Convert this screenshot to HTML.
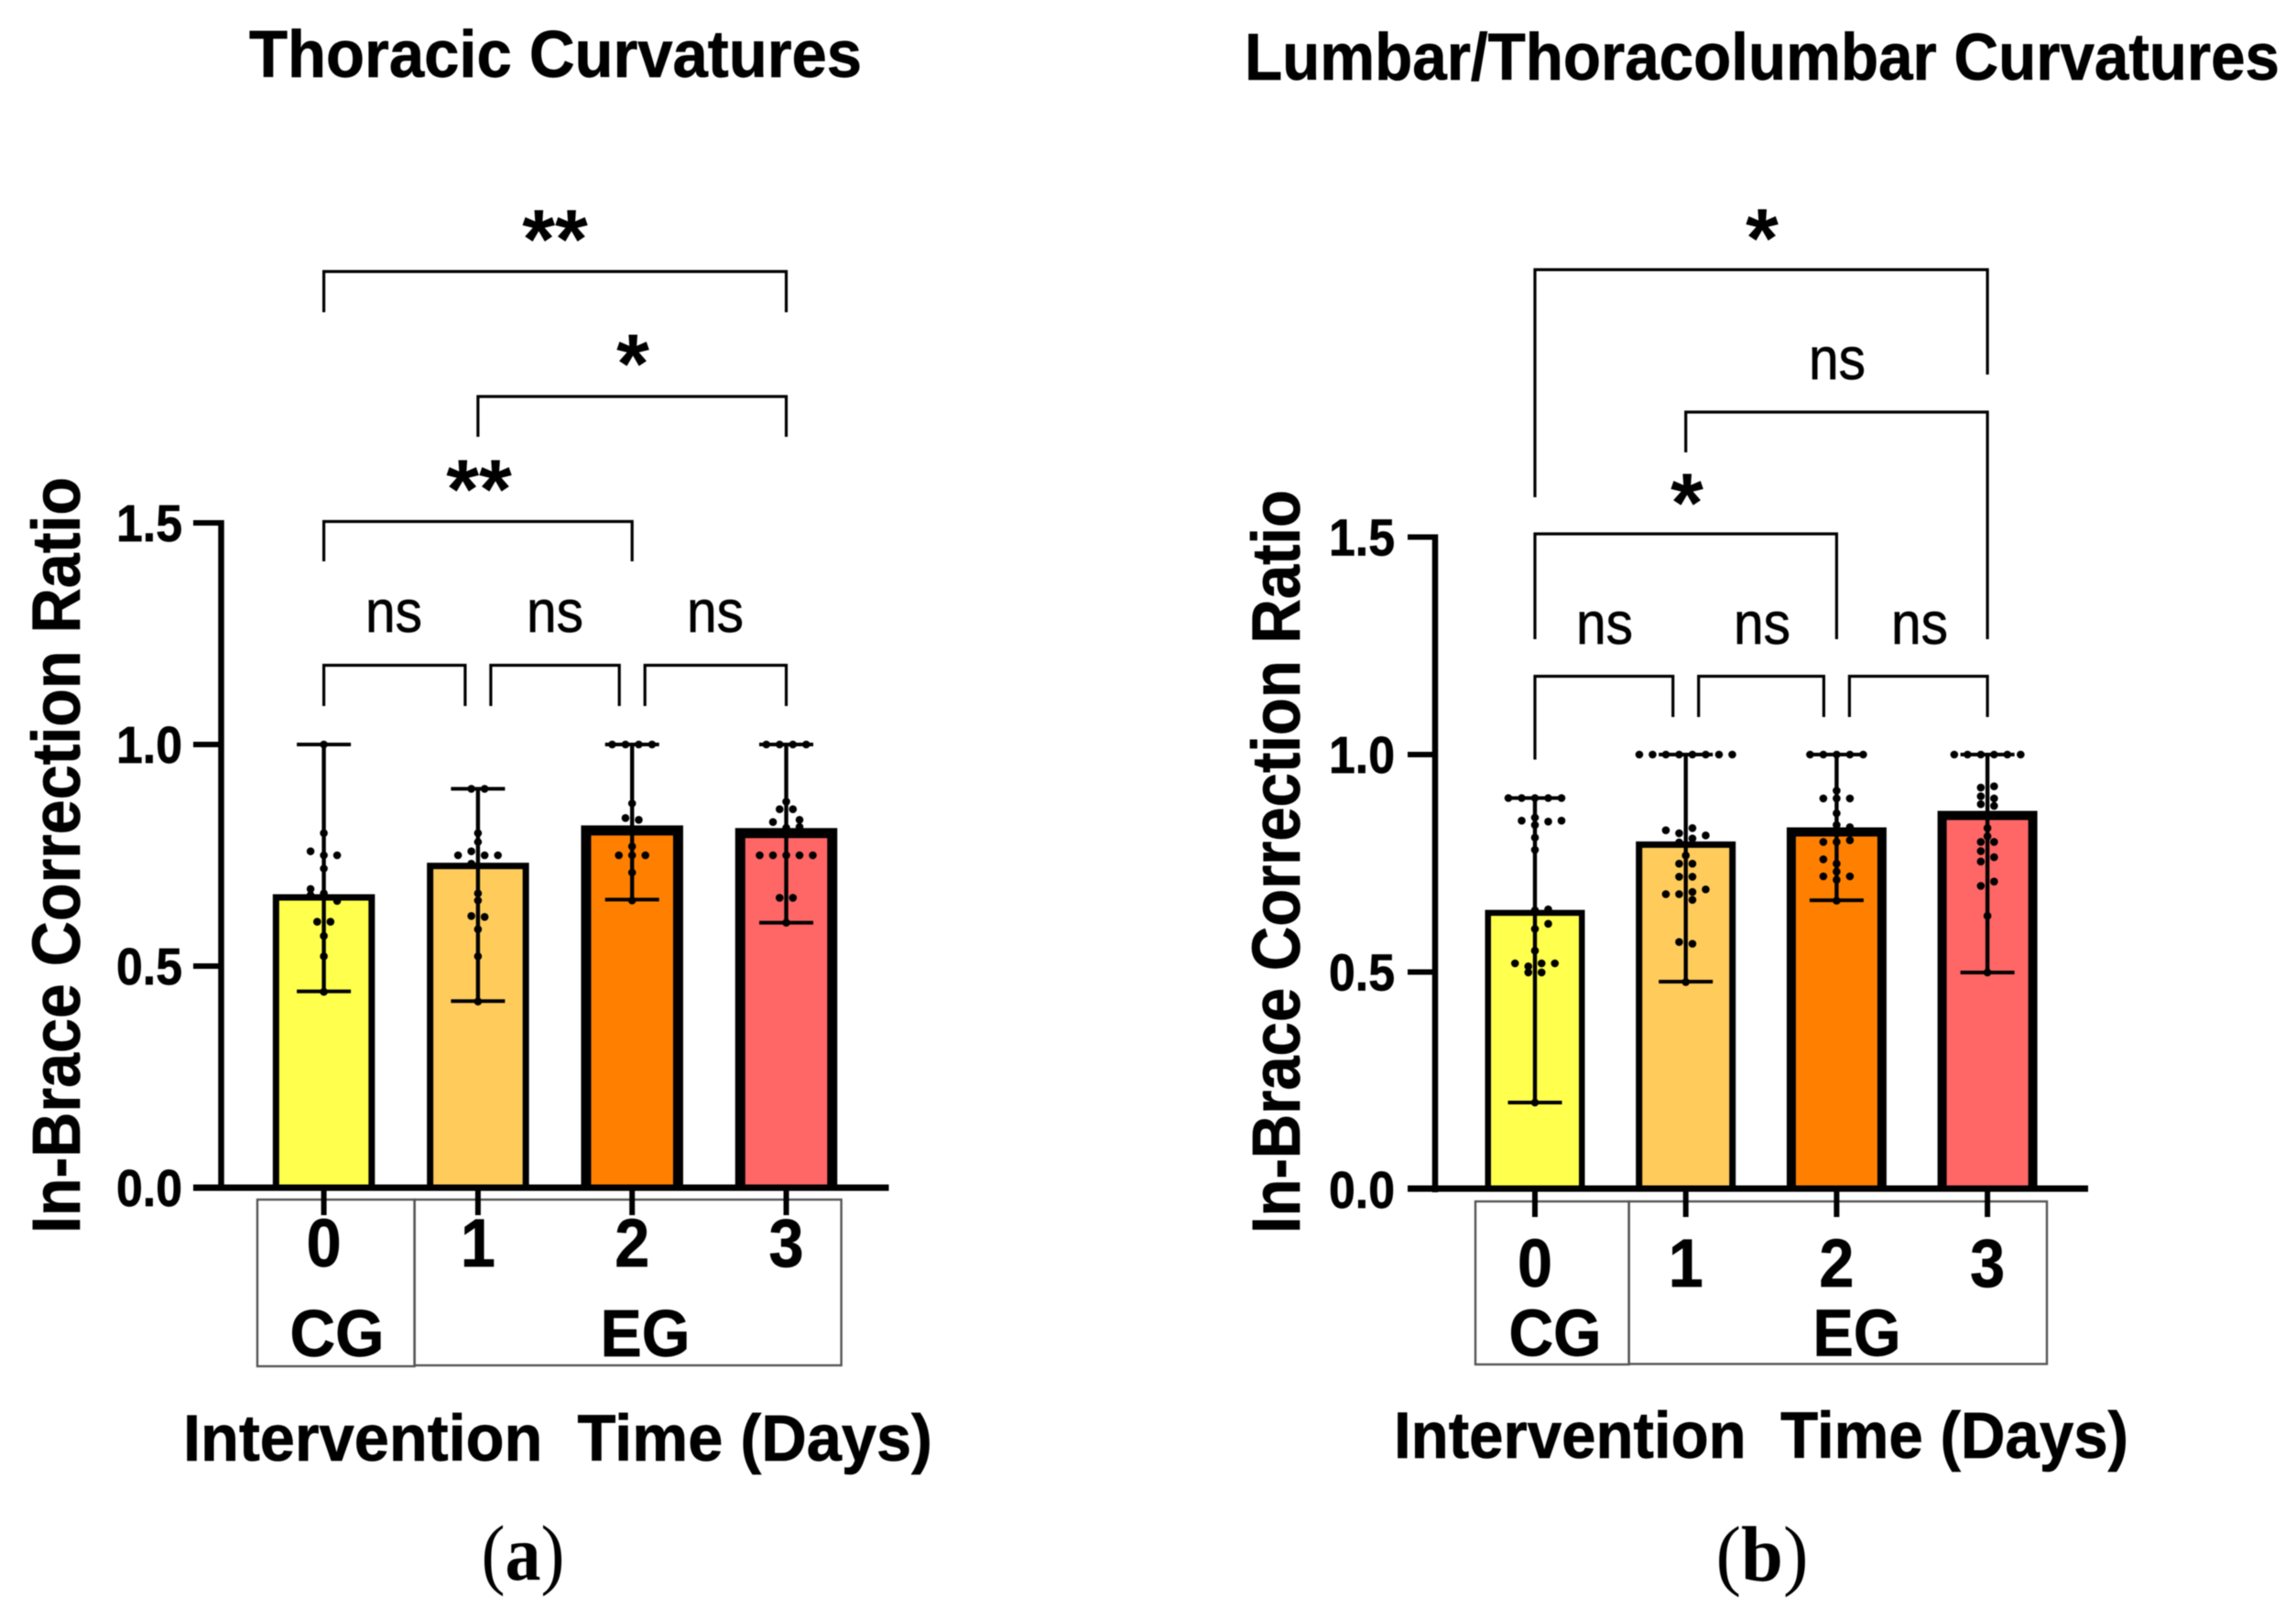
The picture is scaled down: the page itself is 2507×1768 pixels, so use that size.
<!DOCTYPE html>
<html lang="en">
<head>
<meta charset="utf-8">
<title>In-Brace Correction Ratio</title>
<style>
  html, body { margin: 0; padding: 0; background: #ffffff; }
  #figure { display: block; width: 2507px; height: 1768px; background: #ffffff; filter: blur(0.6px); }
  text { font-family: "Liberation Sans", sans-serif; fill: #000000; white-space: pre; }
  .heavy { stroke: #000000; stroke-width: 0.7px; }
  .serif { font-family: "Liberation Serif", serif; }
</style>
</head>
<body>
<svg id="figure" xmlns="http://www.w3.org/2000/svg" width="2507" height="1768" viewBox="0 0 2507 1768"></svg>
<script>
// ---- shared labels ----
var categories = ['0', '1', '2', '3'];
var yTickValues = [0, 0.5, 1, 1.5];
var yTickLabels = ['0.0', '0.5', '1.0', '1.5'];

// ---- panel a: thoracic ----
var thoracicMeans = [0.655, 0.726, 0.806, 0.8];
var thoracicErrLow = [0.443, 0.421, 0.65, 0.598];
var thoracicErrHigh = [1.0, 0.9, 1.0, 1.0];
var thoracicPoints = [
  [1.0, 0.8, 0.759, 0.75, 0.75, 0.72, 0.674, 0.664, 0.647, 0.66, 0.6, 0.6, 0.568, 0.522, 0.442],
  [0.9, 0.9, 0.8, 0.78, 0.759, 0.75, 0.75, 0.75, 0.731, 0.664, 0.648, 0.613, 0.611, 0.583, 0.522, 0.42],
  [1.0, 1.0, 1.0, 1.0, 0.867, 0.834, 0.83, 0.77, 0.75, 0.75, 0.75, 0.711, 0.648],
  [1.0, 1.0, 1.0, 1.0, 0.871, 0.854, 0.854, 0.825, 0.83, 0.812, 0.814, 0.75, 0.75, 0.75, 0.75, 0.75, 0.654, 0.654, 0.598]
];
var thoracicSwarmSlots = [
  [0, 0, -1, 0, 1, 0, -1, 0, 1, -1, -0.5, 0.5, 0, 0, 0],
  [-0.5, 0.5, 0, 0, -0.5, -1.5, 0.5, 1.5, -0.5, 0, 0, -0.5, 0.5, 0, 0, 0],
  [-1.5, -0.5, 0.5, 1.5, 0, -0.5, 0.5, 0, -1, 0, 1, 0, 0],
  [-1.5, -0.5, 0.5, 1.5, 0, -0.5, 0.5, -1, 1, 0, 1, -2, -1, 0, 1, 2, -0.5, 0.5, 0]
];

// ---- panel b: lumbar / thoracolumbar ----
var lumbarMeans = [0.636, 0.793, 0.822, 0.86];
var lumbarErrLow = [0.2, 0.478, 0.665, 0.499];
var lumbarErrHigh = [0.9, 1.0, 1.0, 1.0];
var lumbarPoints = [
  [0.9, 0.9, 0.9, 0.9, 0.9, 0.855, 0.838, 0.848, 0.846, 0.848, 0.809, 0.781, 0.642, 0.644, 0.611, 0.599, 0.549, 0.52, 0.513, 0.499, 0.52, 0.499, 0.52, 0.2],
  [1, 1, 1, 1, 1, 1, 1, 1, 0.826, 0.819, 0.831, 0.814, 0.798, 0.807, 0.768, 0.749, 0.749, 0.719, 0.719, 0.679, 0.679, 0.684, 0.69, 0.666, 0.569, 0.565, 0.477],
  [1, 1, 1, 1, 1, 0.917, 0.899, 0.899, 0.899, 0.865, 0.838, 0.833, 0.799, 0.799, 0.803, 0.759, 0.749, 0.731, 0.72, 0.72, 0.712, 0.664],
  [1, 1, 1, 1, 1, 1, 0.924, 0.927, 0.904, 0.899, 0.886, 0.882, 0.831, 0.812, 0.799, 0.799, 0.778, 0.764, 0.754, 0.708, 0.698, 0.629, 0.499]
];
var lumbarSwarmSlots = [
  [-2, -1, 0, 1, 2, 0, 0, -1, 1, 2, 0, 0, 0, 1, 1, 0, 0, -1.5, -0.5, -0.5, 0.5, 0.5, 1.5, 0],
  [-3.5, -2.5, -1.5, -0.5, 0.5, 1.5, 2.5, 3.5, -1.5, -0.5, 0.5, 1.5, -0.5, 0.5, 0, -0.5, 0.5, -0.5, 0.5, -1.5, -0.5, 0.5, 1.5, 0.5, -0.5, 0.5, 0],
  [-2, -1, 0, 1, 2, 0, -1, 0, 1, 0, 0, 1, -1, 0, 1, -1, 0, 0, -1, 1, 0, 0],
  [-2.5, -1.5, -0.5, 0.5, 1.5, 2.5, -0.5, 0.5, -0.5, 0.5, -0.5, 0.5, 0, 0, -0.5, 0.5, -0.5, 0.5, -0.5, 0.5, -0.5, 0, 0]
];

// ---- helpers ----
var NS = 'http://www.w3.org/2000/svg';
var root = document.getElementById('figure');
function make(tag, attrs, parent) {
  var node = document.createElementNS(NS, tag);
  for (var k in attrs) { node.setAttribute(k, attrs[k]); }
  (parent || root).appendChild(node);
  return node;
}
function label(content, attrs, parent) {
  var node = make('text', attrs, parent);
  node.textContent = content;
  return node;
}

var barFills = ['#FFFF4D', '#FFCC5C', '#FF8000', '#FF6666'];

function drawPanel(cfg, means, errLow, errHigh, points, slots) {
  var panel = make('g', {});
  
  
  function xPos(i) { return cfg.x0 + i * cfg.step; }
  function yPos(v) { return cfg.y0 - v * cfg.unit; }

  // bars: fill runs down to the axis, outline is open at the bottom
  categories.forEach(function (c, i) {
    var sw = cfg.barStroke[i];
    var w = cfg.barOuter - sw;
    var left = xPos(i) - w / 2;
    var bar = make('path', {
      d: 'M' + left + ' ' + cfg.y0 + 'V' + yPos(means[i]) + 'H' + (left + w) + 'V' + cfg.y0,
      fill: barFills[i], stroke: '#000', 'stroke-width': sw
    }, panel);
    
    
  });

  // error bars
  categories.forEach(function (c, i) {
    var g = make('g', { stroke: '#000', fill: 'none' }, panel);
    
    
    make('line', { x1: xPos(i), x2: xPos(i), y1: yPos(errHigh[i]), y2: yPos(errLow[i]), 'stroke-width': 4.4 }, g);
    make('line', { x1: xPos(i) - 29.5, x2: xPos(i) + 29.5, y1: yPos(errHigh[i]), y2: yPos(errHigh[i]), 'stroke-width': 4 }, g);
    make('line', { x1: xPos(i) - 29.5, x2: xPos(i) + 29.5, y1: yPos(errLow[i]), y2: yPos(errLow[i]), 'stroke-width': 4 }, g);
  });

  // individual points
  points.forEach(function (series, i) {
    series.forEach(function (v, j) {
      var dot = make('circle', { cx: xPos(i) + slots[i][j] * 14.5, cy: yPos(v), r: 4.3, fill: '#000' }, panel);
      
      
    });
  });

  // axes
  var yAxis = make('line', { x1: cfg.axisX, x2: cfg.axisX, y1: yPos(1.5) - 3, y2: cfg.y0 + 3, stroke: '#000', 'stroke-width': 6.5 }, panel);
  
  
  var xAxis = make('line', { x1: cfg.axisLeft, x2: cfg.axisRight, y1: cfg.axisY, y2: cfg.axisY, stroke: '#000', 'stroke-width': 7 }, panel);
  
  

  yTickValues.forEach(function (v, i) {
    if (v > 0) {
      var t = make('line', { x1: cfg.axisLeft, x2: cfg.axisX, y1: yPos(v), y2: yPos(v), stroke: '#000', 'stroke-width': 6 }, panel);
      
      
    }
    var tl = label(yTickLabels[i], { x: cfg.yLabelX, y: yPos(v) + 20, 'text-anchor': 'end', 'font-size': 57, 'font-weight': 'bold', textLength: 72, lengthAdjust: 'spacingAndGlyphs', class: 'heavy' }, panel);
    
    
  });

  // group boxes
  var boxA = make('rect', { x: cfg.boxX0, y: cfg.boxTop, width: cfg.boxX1 - cfg.boxX0, height: cfg.boxBottomA - cfg.boxTop, fill: 'none', stroke: '#555', 'stroke-width': 2.4 }, panel);
  
  
  var boxB = make('rect', { x: cfg.boxX1, y: cfg.boxTop, width: cfg.boxX2 - cfg.boxX1, height: cfg.boxBottomB - cfg.boxTop, fill: 'none', stroke: '#555', 'stroke-width': 2.4 }, panel);
  
  

  // x ticks + labels
  categories.forEach(function (c, i) {
    var t = make('line', { x1: xPos(i), x2: xPos(i), y1: cfg.axisY, y2: cfg.tickEnd, stroke: '#000', 'stroke-width': 6 }, panel);
    
    
    var tl = label(c, { x: xPos(i), y: cfg.digitBase, 'text-anchor': 'middle', 'font-size': 74, 'font-weight': 'bold', textLength: 38, lengthAdjust: 'spacingAndGlyphs', class: 'heavy' }, panel);
    
    
  });
  var cg = label('CG', { x: cfg.cgX, y: cfg.groupBase, 'text-anchor': 'middle', 'font-size': 72, 'font-weight': 'bold', textLength: cfg.cgLen, lengthAdjust: 'spacingAndGlyphs', class: 'heavy' }, panel);
  
  
  var eg = label('EG', { x: cfg.egX, y: cfg.groupBase, 'text-anchor': 'middle', 'font-size': 72, 'font-weight': 'bold', textLength: cfg.egLen, lengthAdjust: 'spacingAndGlyphs', class: 'heavy' }, panel);
  
  

  // titles
  var title = label(cfg.title, { x: cfg.titleX, y: cfg.titleBase, 'font-size': 72, 'font-weight': 'bold', textLength: cfg.titleLen, lengthAdjust: 'spacingAndGlyphs', class: 'heavy' }, panel);
  
  

  var yt = label('In-Brace Correction Ratio', {
    x: 0, y: 0, 'text-anchor': 'middle', 'font-size': 74, 'font-weight': 'bold',
    textLength: cfg.yTitleLen, lengthAdjust: 'spacingAndGlyphs', class: 'heavy',
    transform: 'translate(' + cfg.yTitleX + ' ' + cfg.yTitleY + ') rotate(-90)'
  }, panel);
  
  

  var xt = label('Intervention  Time (Days)', { x: cfg.xTitleX, y: cfg.xTitleBase, 'font-size': 71, 'font-weight': 'bold', textLength: cfg.xTitleLen, lengthAdjust: 'spacingAndGlyphs', class: 'heavy' }, panel);
  
  

  // significance brackets
  cfg.brackets.forEach(function (b) {
    var x1 = xPos(b.from) + b.dx1, x2 = xPos(b.to) + b.dx2;
    var p = make('path', { d: 'M' + x1 + ' ' + b.left + 'V' + b.top + 'H' + x2 + 'V' + b.right, fill: 'none', stroke: '#000', 'stroke-width': 3.2 }, panel);
    
    
  });
  cfg.marks.forEach(function (m) {
    var isNs = m.text === 'ns';
    var attrs = { x: m.x, y: m.y, 'text-anchor': 'middle', 'font-size': isNs ? 65 : 92, 'font-weight': isNs ? 'normal' : 'bold' };
    if (isNs) { attrs.textLength = 62; attrs.lengthAdjust = 'spacingAndGlyphs'; attrs.class = 'heavy'; }
    var t = label(m.text, attrs, panel);
    
    
  });

  // panel letter
  var cap = make('text', { x: cfg.capX, y: cfg.capBase, 'text-anchor': 'middle', 'font-size': 86, textLength: cfg.capLen, lengthAdjust: 'spacingAndGlyphs', class: 'serif' }, panel);
  
  
  cap.appendChild(document.createTextNode('('));
  var bold = make('tspan', { 'font-weight': 'bold' }, cap);
  bold.textContent = cfg.capLetter;
  cap.appendChild(document.createTextNode(')'));
}

drawPanel({
  name: 'thoracic-chart', title: 'Thoracic Curvatures', titleX: 272, titleBase: 84, titleLen: 669,
  x0: 353.6, step: 168.3, y0: 1297, unit: 484, barOuter: 111.5, barStroke: [7, 7, 11, 11],
  axisX: 241.5, axisY: 1297, axisLeft: 211, axisRight: 970.5, yLabelX: 199,
  boxX0: 281, boxX1: 452.6, boxX2: 918.6, boxTop: 1310, boxBottomA: 1492, boxBottomB: 1491, tickEnd: 1327,
  digitBase: 1383, groupBase: 1481, cgX: 368, egX: 704.5, cgLen: 103, egLen: 98,
  yTitleX: 87, yTitleY: 934, yTitleLen: 826, xTitleX: 200, xTitleBase: 1595, xTitleLen: 818,
  capX: 571, capBase: 1725, capLen: 91, capLetter: 'a',
  brackets: [
    { from: 0, to: 3, dx1: 0, dx2: 0, top: 296.5, left: 341, right: 341 },
    { from: 1, to: 3, dx1: 0, dx2: 0, top: 433, left: 477, right: 477 },
    { from: 0, to: 2, dx1: 0, dx2: 0, top: 569.5, left: 613, right: 613 },
    { from: 0, to: 1, dx1: 0, dx2: -14, top: 726.5, left: 771, right: 771 },
    { from: 1, to: 2, dx1: 14, dx2: -14, top: 726.5, left: 771, right: 771 },
    { from: 2, to: 3, dx1: 14, dx2: 0, top: 726.5, left: 771, right: 771 }
  ],
  marks: [
    { text: '**', x: 606, y: 293 }, { text: '*', x: 691, y: 429 }, { text: '**', x: 523, y: 566 },
    { text: 'ns', x: 430, y: 690 }, { text: 'ns', x: 606, y: 690 }, { text: 'ns', x: 781, y: 690 }
  ]
}, thoracicMeans, thoracicErrLow, thoracicErrHigh, thoracicPoints, thoracicSwarmSlots);

drawPanel({
  name: 'lumbar-thoracolumbar-chart', title: 'Lumbar/Thoracolumbar Curvatures', titleX: 1359, titleBase: 87, titleLen: 1130,
  x0: 1676, step: 164.7, y0: 1299, unit: 475, barOuter: 109, barStroke: [6.5, 7, 10, 10],
  axisX: 1567, axisY: 1298, axisLeft: 1537, axisRight: 2280, yLabelX: 1523,
  boxX0: 1611, boxX1: 1778.6, boxX2: 2235, boxTop: 1312, boxBottomA: 1490, boxBottomB: 1489.5, tickEnd: 1329,
  digitBase: 1405, groupBase: 1480.5, cgX: 1698, egX: 2027.5, cgLen: 101, egLen: 96,
  yTitleX: 1419, yTitleY: 941, yTitleLen: 812, xTitleX: 1522, xTitleBase: 1592, xTitleLen: 802,
  capX: 1924, capBase: 1726, capLen: 101, capLetter: 'b',
  brackets: [
    { from: 0, to: 3, dx1: 0, dx2: 0, top: 294.5, left: 543, right: 409 },
    { from: 1, to: 3, dx1: 0, dx2: 0, top: 450, left: 494, right: 698 },
    { from: 0, to: 2, dx1: 0, dx2: 0, top: 583, left: 698, right: 698 },
    { from: 0, to: 1, dx1: 0, dx2: -14, top: 738.5, left: 829.5, right: 783 },
    { from: 1, to: 2, dx1: 14, dx2: -14, top: 738.5, left: 783, right: 783 },
    { from: 2, to: 3, dx1: 14, dx2: 0, top: 738.5, left: 783, right: 783 }
  ],
  marks: [
    { text: '*', x: 1924, y: 292 }, { text: '*', x: 1842, y: 581 }, { text: 'ns', x: 2006, y: 414 },
    { text: 'ns', x: 1752, y: 703 }, { text: 'ns', x: 1924, y: 703 }, { text: 'ns', x: 2096, y: 703 }
  ]
}, lumbarMeans, lumbarErrLow, lumbarErrHigh, lumbarPoints, lumbarSwarmSlots);
</script>
</body>
</html>
